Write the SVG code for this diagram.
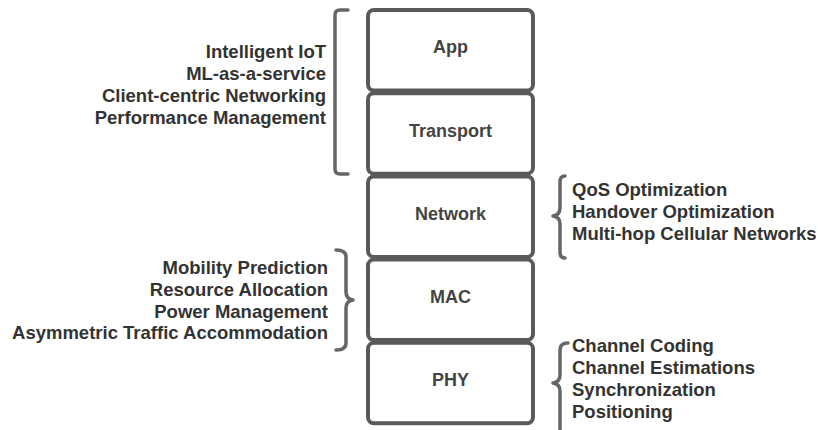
<svg xmlns="http://www.w3.org/2000/svg" width="818" height="430" viewBox="0 0 818 430">
  <style>
    .layer { fill: #ffffff; stroke: #5a5a5a; stroke-width: 4; }
    .layer-label { font-family: "Liberation Sans", Arial, sans-serif; font-weight: bold; font-size: 18px; fill: #444444; text-anchor: middle; }
    .note { font-family: "Liberation Sans", Arial, sans-serif; font-weight: bold; font-size: 18.5px; fill: #333333; }
    .note.left { text-anchor: end; }
    .note.right { text-anchor: start; }
    .brace { fill: none; stroke: #666666; stroke-width: 3.5; stroke-linecap: round; stroke-linejoin: round; }
  </style>

  <!-- protocol stack layers -->
  <g id="layer-app">
    <rect class="layer" x="368" y="10" width="165" height="80.5" rx="6"/>
    <text class="layer-label" x="450.5" y="53">App</text>
  </g>
  <g id="layer-transport">
    <rect class="layer" x="368" y="93.2" width="165" height="80.5" rx="6"/>
    <text class="layer-label" x="450.5" y="137">Transport</text>
  </g>
  <g id="layer-network">
    <rect class="layer" x="368" y="176.4" width="165" height="80.5" rx="6"/>
    <text class="layer-label" x="450.5" y="220">Network</text>
  </g>
  <g id="layer-mac">
    <rect class="layer" x="368" y="259.6" width="165" height="80.5" rx="6"/>
    <text class="layer-label" x="450.5" y="303">MAC</text>
  </g>
  <g id="layer-phy">
    <rect class="layer" x="368" y="342.8" width="165" height="80.5" rx="6"/>
    <text class="layer-label" x="450.5" y="386">PHY</text>
  </g>

  <!-- brackets linking topics to layers -->
  <g id="connectors">
    <!-- square bracket spanning App + Transport -->
    <path class="brace" d="M348,10 H340 Q335,10 335,15 V169 Q335,174 340,174 H348"/>
    <!-- curly brace for Network -->
    <path class="brace" d="M565,176 Q560,176 560,182 V208 Q560,215 553,216 Q560,217 560,224 V252 Q560,258 565,258"/>
    <!-- curly brace for MAC -->
    <path class="brace" d="M336,250 Q346,250 346,257 V292 Q346,299 353,300 Q346,301 346,308 V343 Q346,350 336,350"/>
    <!-- curly brace for PHY -->
    <path class="brace" d="M568,343 Q560,343 560,350 V375 Q560,382 553,383 Q560,384 560,391 V430"/>
  </g>

  <!-- topic lists -->
  <g id="topics-app-transport">
    <text class="note left" x="326" y="58">Intelligent IoT</text>
    <text class="note left" x="326" y="80">ML-as-a-service</text>
    <text class="note left" x="326" y="102">Client-centric Networking</text>
    <text class="note left" x="326" y="124">Performance Management</text>
  </g>
  <g id="topics-network">
    <text class="note right" x="572" y="196">QoS Optimization</text>
    <text class="note right" x="572" y="218">Handover Optimization</text>
    <text class="note right" x="572" y="240">Multi-hop Cellular Networks</text>
  </g>
  <g id="topics-mac">
    <text class="note left" x="328" y="274">Mobility Prediction</text>
    <text class="note left" x="328" y="296">Resource Allocation</text>
    <text class="note left" x="328" y="318">Power Management</text>
    <text class="note left" x="328" y="339">Asymmetric Traffic Accommodation</text>
  </g>
  <g id="topics-phy">
    <text class="note right" x="572" y="352">Channel Coding</text>
    <text class="note right" x="572" y="374">Channel Estimations</text>
    <text class="note right" x="572" y="396">Synchronization</text>
    <text class="note right" x="572" y="418">Positioning</text>
  </g>
</svg>
